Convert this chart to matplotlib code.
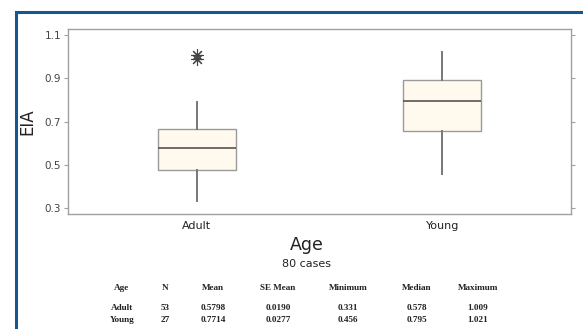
import matplotlib
matplotlib.use("Agg")
import matplotlib.pyplot as plt
from matplotlib.patches import Rectangle

# Box summary per age group
groups = ["Adult", "Young"]
q1 = [0.477, 0.656]
median = [0.578, 0.795]
q3 = [0.667, 0.893]
whisker_low = [0.331, 0.456]
whisker_high = [0.788, 1.021]
outliers = [[1.009, 0.990], []]

# Descriptive statistics table
table_header = ["Age", "N", "Mean", "SE Mean", "Minimum", "Median", "Maximum"]
table_rows = [
    ["Adult", "53", "0.5798", "0.0190", "0.331", "0.578", "1.009"],
    ["Young", "27", "0.7714", "0.0277", "0.456", "0.795", "1.021"],
]
y_ticks = [0.3, 0.5, 0.7, 0.9, 1.1]

W, H = 583, 329
fig = plt.figure(figsize=(W / 100, H / 100), dpi=100)
fig.patch.set_facecolor("white")

# Outer blue frame
fig.add_artist(Rectangle((16 / W, -0.1), 1.2, 1 - 12 / H + 0.1,
                         transform=fig.transFigure, fill=False,
                         edgecolor="#17578f", linewidth=2.2))

ax = fig.add_axes([68 / W, 1 - 214 / H, (571 - 68) / W, (214 - 29) / H])

stats = []
for i, g in enumerate(groups):
    stats.append(dict(label=g, q1=q1[i], med=median[i], q3=q3[i],
                      whislo=whisker_low[i], whishi=whisker_high[i],
                      fliers=outliers[i]))

ax.bxp(stats, positions=[1, 2], widths=0.318, patch_artist=True,
       showcaps=False,
       boxprops=dict(facecolor="#fffaed", edgecolor="#9a9a9a", linewidth=1.0),
       medianprops=dict(color="#555555", linewidth=1.2),
       whiskerprops=dict(color="#777777", linewidth=1.4),
       flierprops=dict(marker=(8, 2, 0), markersize=9, markeredgecolor="#444444",
                       markeredgewidth=0.8, linestyle="none"))

ax.set_xlim(0.475, 2.525)
ax.set_ylim(0.272, 1.128)
ax.set_yticks(y_ticks)
ax.set_yticklabels([f"{v:.1f}" for v in y_ticks])
for s in ax.spines.values():
    s.set_color("#a0a0a0")
    s.set_linewidth(1.0)
ax.tick_params(axis="y", which="both", direction="out", length=3, color="#a0a0a0",
               labelsize=7.5, labelcolor="#444444", right=True, pad=2)
ax.tick_params(axis="x", length=0, labelsize=8, labelcolor="#222222", pad=5)
ax.set_ylabel("EIA", fontsize=12, color="#222222", labelpad=6)

# Axis title and case count below the axes
fig.text(307 / W, 1 - 245 / H, "Age", fontsize=12.5, ha="center", va="center", color="#222222")
fig.text(307 / W, 1 - 264 / H, "80 cases", fontsize=8, ha="center", va="center", color="#222222")

col_x = [122, 165, 213, 278, 348, 417, 478]
serif = dict(family="Liberation Serif", weight="bold", fontsize=6.6, color="#222222",
             ha="center", va="center")
for x, t in zip(col_x, table_header):
    fig.text(x / W, 1 - 288 / H, t, **serif)
for row, y in zip(table_rows, [308, 320]):
    for x, t in zip(col_x, row):
        fig.text(x / W, 1 - y / H, t, **serif)

fig.savefig("out.png", dpi=100)
